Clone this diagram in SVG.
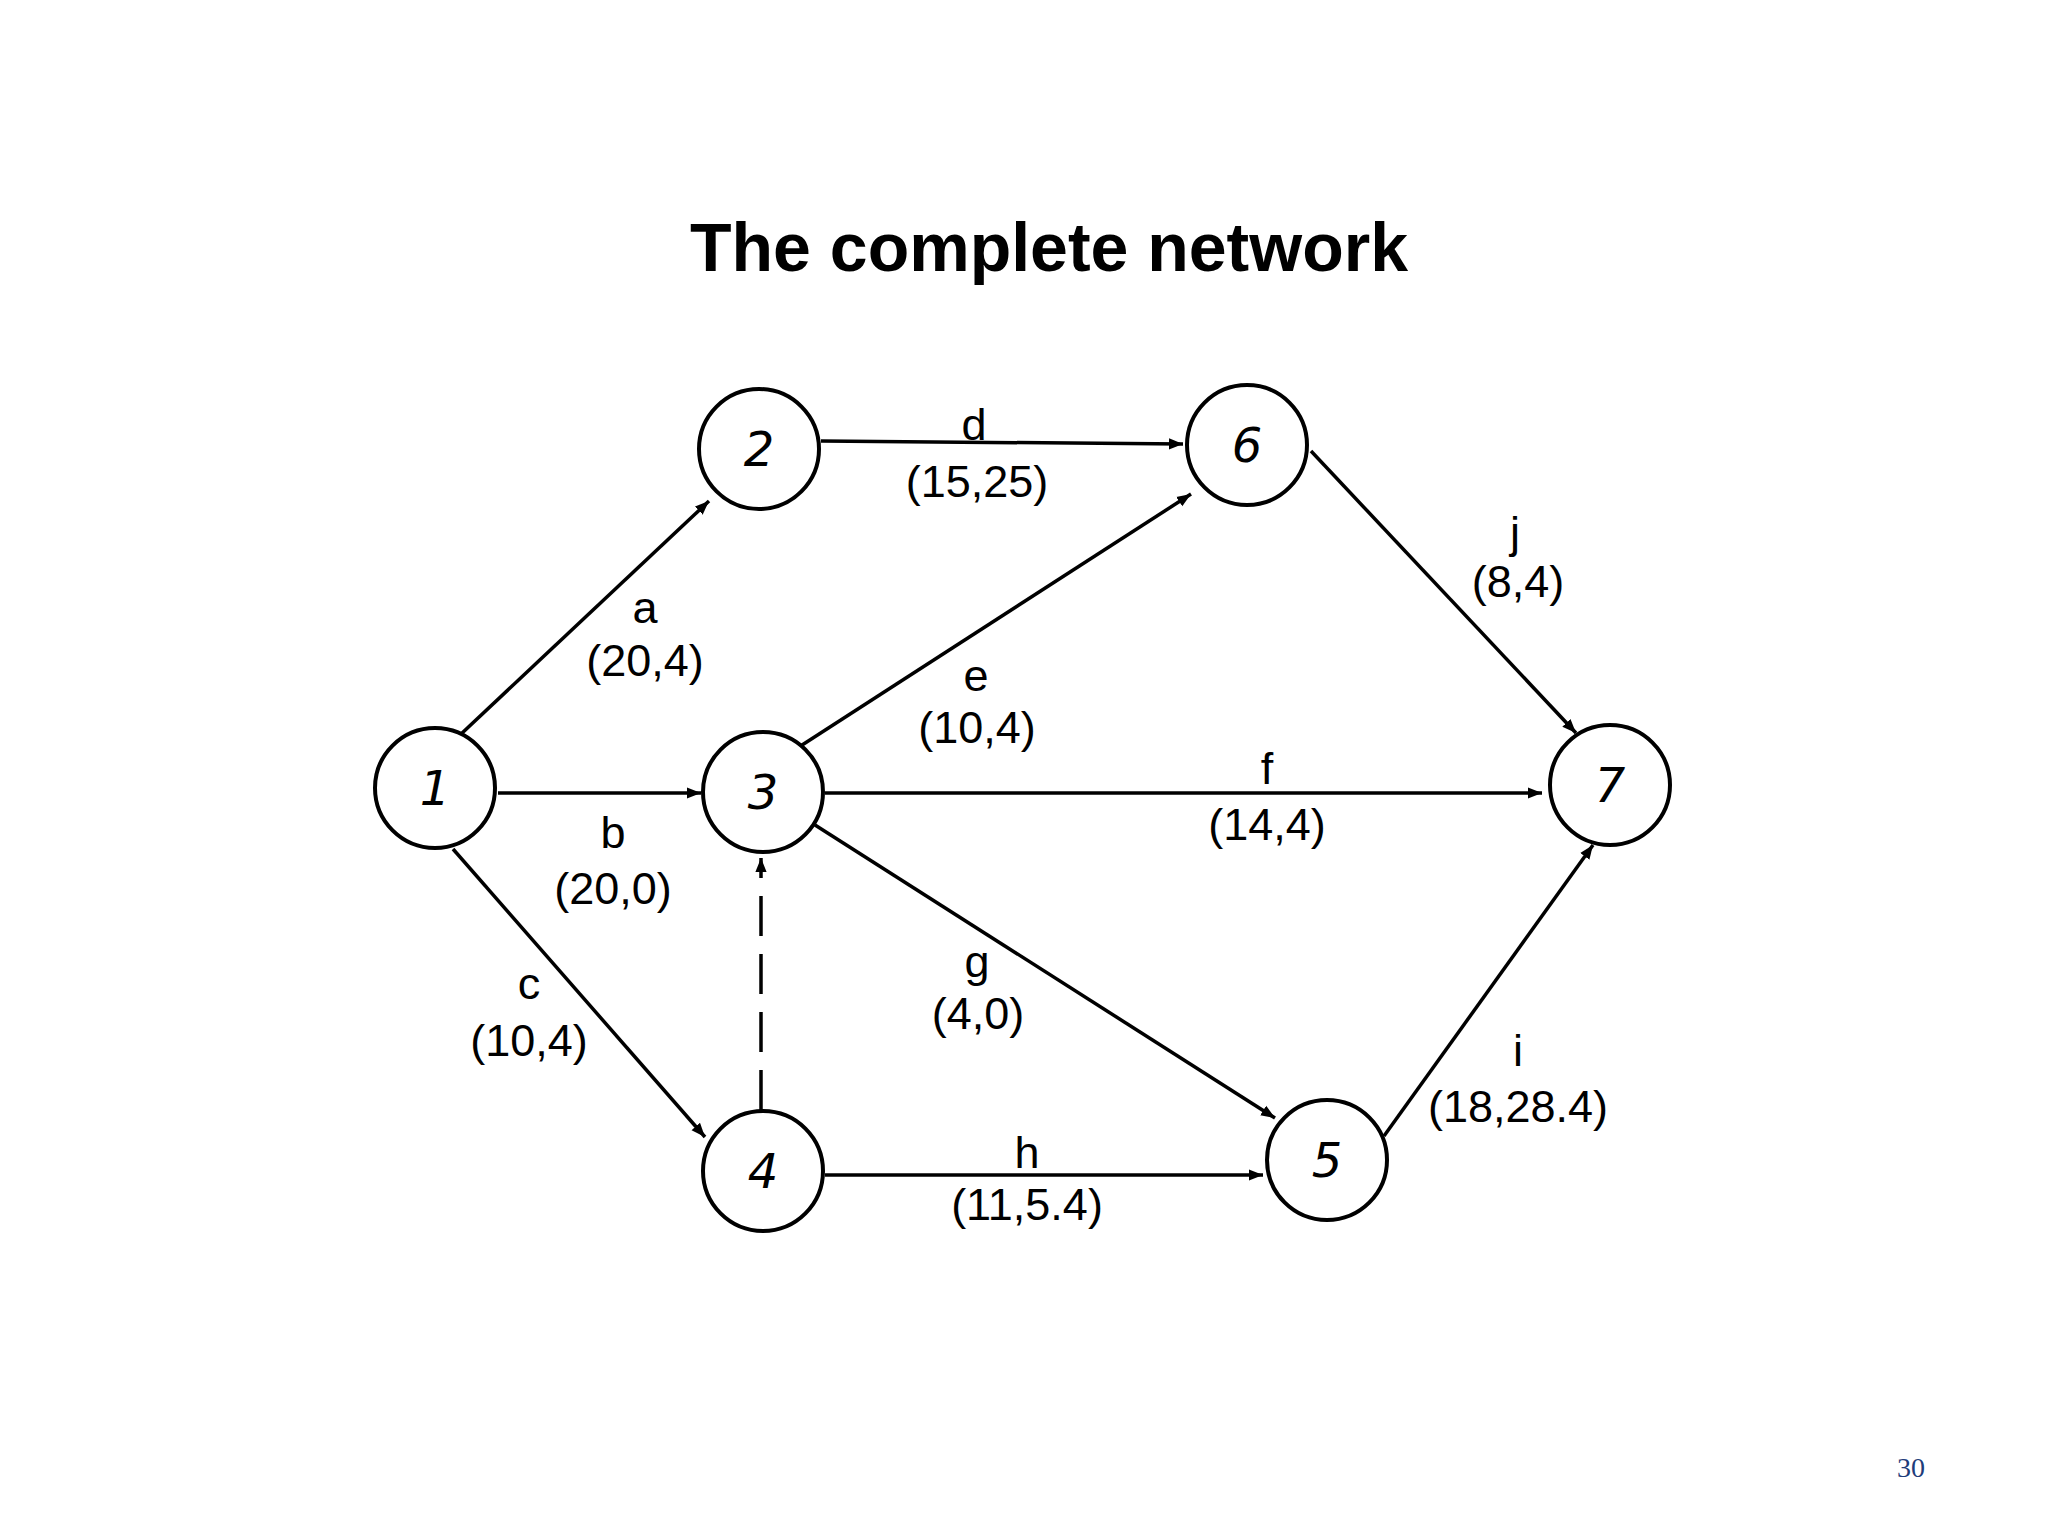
<svg xmlns="http://www.w3.org/2000/svg" width="2048" height="1536" viewBox="0 0 2048 1536">
<style>
.n circle{fill:#fff;stroke:#000;stroke-width:4}
.n text{font-family:"DejaVu Sans",sans-serif;font-style:italic;font-weight:200;font-size:48px;text-anchor:middle;dominant-baseline:central}
.e line{stroke:#000;stroke-width:3.5;marker-end:url(#ar)}
.l{font-family:"Liberation Sans",Arial,sans-serif;font-size:45px;text-anchor:middle;dominant-baseline:central}
</style>
<defs><marker id="ar" viewBox="0 0 10 10" refX="10" refY="5" markerWidth="4" markerHeight="4" orient="auto" markerUnits="strokeWidth"><path d="M0,1 L10,5 L0,9 Z"/></marker></defs>
<rect width="2048" height="1536" fill="#fff"/>
<text x="1049" y="247" font-family="Liberation Sans,Arial,sans-serif" font-weight="bold" font-size="68" text-anchor="middle" dominant-baseline="central">The complete network</text>
<g id="connectors" class="e">
<line x1="460" y1="735" x2="709" y2="501"/>
<line x1="498" y1="793" x2="701" y2="793"/>
<line x1="453" y1="849" x2="705" y2="1137"/>
<line x1="821" y1="441" x2="1183" y2="444"/>
<line x1="799" y1="747" x2="1191" y2="494"/>
<line x1="825" y1="793" x2="1542" y2="793"/>
<line x1="815" y1="825" x2="1275" y2="1118"/>
<line x1="825" y1="1175" x2="1263" y2="1175"/>
<line x1="1384" y1="1136" x2="1593" y2="845"/>
<line x1="1311" y1="451" x2="1576" y2="733"/>
<line x1="761" y1="1110" x2="761" y2="858" stroke-dasharray="40,18"/>
</g>
<g id="node1" class="n"><circle cx="435" cy="788" r="60"/><text x="435" y="788">1</text></g>
<g id="node2" class="n"><circle cx="759" cy="449" r="60"/><text x="759" y="449">2</text></g>
<g id="node3" class="n"><circle cx="763" cy="792" r="60"/><text x="763" y="792">3</text></g>
<g id="node4" class="n"><circle cx="763" cy="1171" r="60"/><text x="763" y="1171">4</text></g>
<g id="node5" class="n"><circle cx="1327" cy="1160" r="60"/><text x="1327" y="1160">5</text></g>
<g id="node6" class="n"><circle cx="1247" cy="445" r="60"/><text x="1247" y="445">6</text></g>
<g id="node7" class="n"><circle cx="1610" cy="785" r="60"/><text x="1610" y="785">7</text></g>
<g id="labels">
<text class="l" x="645" y="607">a</text><text class="l" x="645" y="660">(20,4)</text>
<text class="l" x="613" y="832">b</text><text class="l" x="613" y="888">(20,0)</text>
<text class="l" x="529" y="983">c</text><text class="l" x="529" y="1040">(10,4)</text>
<text class="l" x="974" y="424">d</text><text class="l" x="977" y="481">(15,25)</text>
<text class="l" x="976" y="675">e</text><text class="l" x="977" y="727">(10,4)</text>
<text class="l" x="1267" y="768">f</text><text class="l" x="1267" y="824">(14,4)</text>
<text class="l" x="977" y="961">g</text><text class="l" x="978" y="1013">(4,0)</text>
<text class="l" x="1027" y="1152">h</text><text class="l" x="1027" y="1204">(11,5.4)</text>
<text class="l" x="1518" y="1050">i</text><text class="l" x="1518" y="1106">(18,28.4)</text>
<text class="l" x="1515" y="532">j</text><text class="l" x="1518" y="581">(8,4)</text>
</g>
<text x="1911" y="1467" font-family="Liberation Serif,serif" font-size="28" fill="#1f3d7a" text-anchor="middle" dominant-baseline="central">30</text>
</svg>
